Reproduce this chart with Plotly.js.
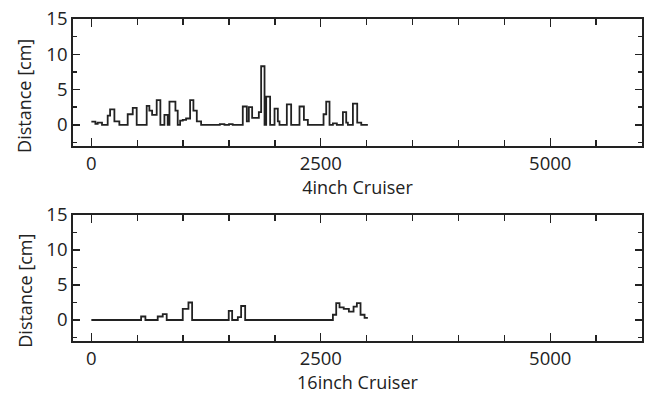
<!DOCTYPE html>
<html>
<head>
<meta charset="utf-8">
<script src="https://cdn.plot.ly/plotly-3.0.1.min.js"></script>
<style>html,body{margin:0;padding:0;background:#fff;}#chart{width:652px;height:396px;}</style>
</head>
<body>
<div id="chart"></div>
<script>
// 4inch Cruiser (step data: x = sample position, y = distance [cm])
var top_x = [0, 44, 69, 116, 178, 204, 251, 305, 396, 451, 494, 603, 632, 662, 712, 752, 796, 832, 851, 916, 941, 967, 996, 1032, 1076, 1112, 1149, 1196, 1400, 1450, 1500, 1540, 1650, 1694, 1716, 1752, 1825, 1850, 1887, 1905, 1948, 1996, 2032, 2050, 2130, 2177, 2268, 2316, 2359, 2530, 2559, 2595, 2632, 2675, 2741, 2777, 2795, 2850, 2897, 2941, 3013];
var top_y = [0.45, 0.15, 0.3, 0, 1.3, 2.2, 0.5, 0, 1.5, 2.4, 0, 2.7, 2.0, 1.4, 3.5, 0, 1.4, 0, 3.3, 2.0, 0, 0.6, 0.7, 0.9, 3.5, 2.0, 0.5, 0, 0.1, 0, 0.1, 0, 2.6, 0.5, 2.5, 1.0, 1.8, 8.3, 0, 4.0, 0, 2.3, 0.5, 0, 2.9, 0, 2.6, 0.7, 0, 1.5, 3.3, 0, 0.2, 0, 1.8, 0.3, 0, 3.0, 0.3, 0, 0];

// 16inch Cruiser
var bottom_x = [0, 542, 589, 723, 778, 821, 996, 1058, 1098, 1497, 1534, 1596, 1632, 1676, 2632, 2668, 2704, 2750, 2806, 2857, 2893, 2933, 2977, 3013];
var bottom_y = [0, 0.5, 0, 0.5, 0.85, 0, 1.6, 2.5, 0, 1.3, 0, 0.4, 2.0, 0, 0.75, 2.4, 1.8, 1.6, 1.2, 1.9, 2.4, 0.75, 0.3, 0.3];

var x_ticks = [0, 2500, 5000];
var y_ticks = [0, 5, 10, 15];
var x_titles = ["4inch Cruiser", "16inch Cruiser"];
var y_title = "Distance [cm]";

var FONT = "Open Sans, Noto Sans, sans-serif";
var INK = "#222222";

var lineStyle = {color: INK, width: 1.8, shape: "hv"};

var traces = [
  {x: top_x, y: top_y, type: "scatter", mode: "lines", line: lineStyle, xaxis: "x", yaxis: "y", hoverinfo: "skip"},
  {x: bottom_x, y: bottom_y, type: "scatter", mode: "lines", line: lineStyle, xaxis: "x2", yaxis: "y2", hoverinfo: "skip"}
];

function xAxis(domainTitle, anchor) {
  return {
    domain: [0, 1], anchor: anchor, range: [-200, 6000],
    tickmode: "array", tickvals: x_ticks, ticktext: x_ticks.map(String),
    ticks: "inside", ticklen: 8, tickwidth: 1.4, tickcolor: INK,
    minor: {dtick: 500, tick0: 0, ticks: "inside", ticklen: 6, tickwidth: 1.4, tickcolor: INK},
    showline: true, linecolor: INK, linewidth: 1.8, mirror: "allticks",
    showgrid: false, zeroline: false,
    tickfont: {family: FONT, size: 18.5, color: INK},
    title: {text: domainTitle, font: {family: FONT, size: 18, color: INK}, standoff: 2}
  };
}
function yAxis(dom, anchor) {
  return {
    domain: dom, anchor: anchor, range: [-3, 15],
    tickmode: "array", tickvals: y_ticks, ticktext: y_ticks.map(String),
    ticks: "inside", ticklen: 7, tickwidth: 1.4, tickcolor: INK,
    minor: {dtick: 2.5, tick0: 0, ticks: "inside", ticklen: 4, tickwidth: 1.4, tickcolor: INK},
    showline: true, linecolor: INK, linewidth: 1.8, mirror: "allticks",
    showgrid: false, zeroline: false,
    tickfont: {family: FONT, size: 18.5, color: INK}
  };
}

var layout = {
  width: 652, height: 396,
  margin: {l: 73, r: 10, t: 19, b: 55},
  paper_bgcolor: "#fff", plot_bgcolor: "#fff",
  showlegend: false,
  xaxis: xAxis(x_titles[0], "y"),
  yaxis: yAxis([0.6056, 1], "x"),
  xaxis2: xAxis(x_titles[1], "y2"),
  yaxis2: yAxis([0, 0.3913], "x2"),
  annotations: [
    {text: y_title, xref: "paper", yref: "paper", x: -0.085, y: 0.76, xanchor: "center", yanchor: "middle", textangle: -90, showarrow: false, font: {family: FONT, size: 18, color: INK}},
    {text: y_title, xref: "paper", yref: "paper", x: -0.085, y: 0.155, xanchor: "center", yanchor: "middle", textangle: -90, showarrow: false, font: {family: FONT, size: 18, color: INK}}
  ]
};

Plotly.newPlot("chart", traces, layout, {staticPlot: true, displayModeBar: false});
</script>
</body>
</html>
